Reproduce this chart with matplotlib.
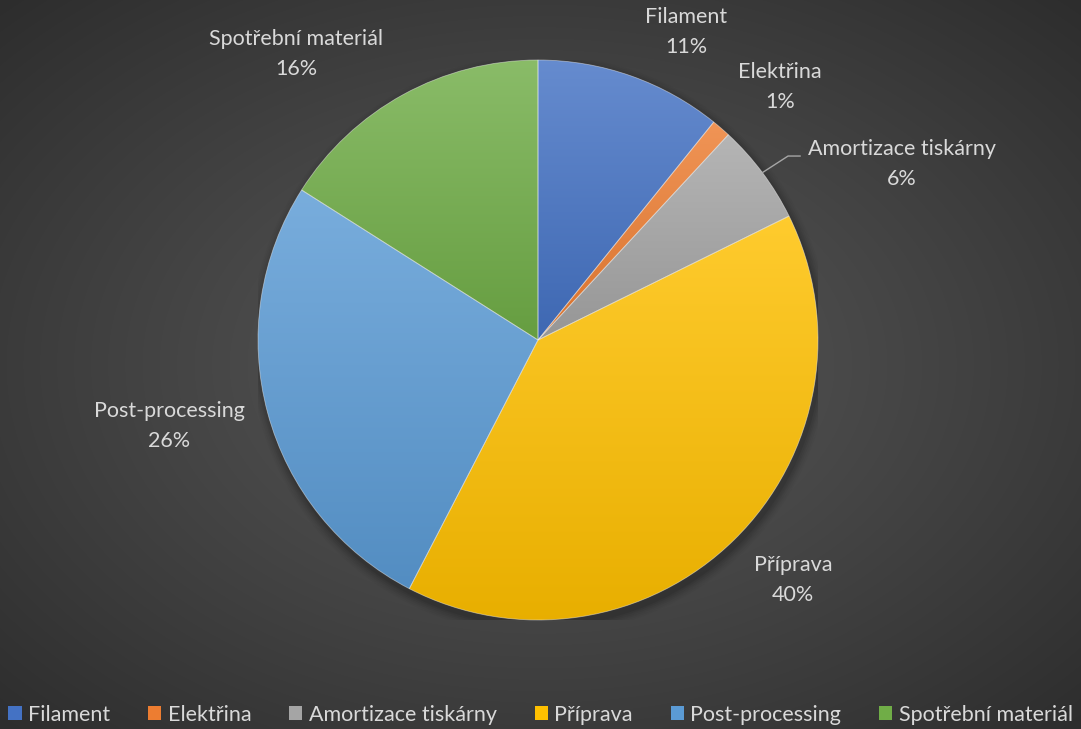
import numpy as np
import matplotlib
matplotlib.use("Agg")
import matplotlib.pyplot as plt
from matplotlib.patches import Patch, Circle
from matplotlib.colors import to_rgb

plt.rcParams['font.family'] = ['Lato', 'DejaVu Sans']

# ---- data ----
categories = ["Filament", "Elektřina", "Amortizace tiskárny", "Příprava",
              "Post-processing", "Spotřební materiál"]
values = [10.8, 1.1, 5.8, 39.9, 26.4, 16.0]
colors = ["#4472C4", "#ED7D31", "#A5A5A5", "#FFC000", "#5B9BD5", "#70AD47"]
# label anchor positions (data units, pie radius = 1)
label_pos = [(0.529, 1.10), (0.864, 0.904), (1.30, 0.629), (0.911, -0.857),
             (-1.318, -0.307), (-0.864, 1.021)]

W, H = 1081, 729
fig = plt.figure(figsize=(W / 100, H / 100), dpi=100)

# ---- background radial gradient ----
bg = fig.add_axes([0, 0, 1, 1])
yy, xx = np.mgrid[0:H, 0:W]
cx, cy = W / 2, H / 2
d = np.sqrt(((xx - cx) / (W / 2)) ** 2 + ((yy - cy) / (H / 2)) ** 2) / np.sqrt(2)
c0, c1 = 0x58 / 255, 0x2d / 255
g = c0 + (c1 - c0) * np.clip(d, 0, 1) ** 1.1
bg.imshow(np.dstack([g, g, g]), extent=[0, 1, 0, 1], aspect='auto', zorder=0)
bg.set_xlim(0, 1); bg.set_ylim(0, 1)
bg.axis('off')

# ---- pie axes ----
R = 280
pcx, pcy = 538, 340
ax = fig.add_axes([(pcx - R) / W, (H - pcy - R) / H, 2 * R / W, 2 * R / H])
ax.axis('off')

# shadow
for k, a in enumerate(np.linspace(0.06, 0.02, 6)):
    ax.add_patch(Circle((0.008, -0.018), 1.0 + 0.006 * (k + 1), color='black',
                        alpha=a, lw=0, zorder=0))

wedges, _ = ax.pie(values, colors=colors, startangle=90, counterclock=False,
                   radius=1.0, center=(0, 0),
                   wedgeprops=dict(edgecolor=(1, 1, 1, 0.45), linewidth=0.6))

for w, col in zip(wedges, colors):
    ext = w.get_path().get_extents()
    base = np.array(to_rgb(col))
    top = base + (1 - base) * 0.18
    bot = base * 0.91
    t = np.linspace(0, 1, 256)[:, None]
    grad = top[None, :] * (1 - t) + bot[None, :] * t
    img = np.repeat(grad[:, None, :], 2, axis=1)
    im = ax.imshow(img, extent=[ext.x0, ext.x1, ext.y0, ext.y1],
                   origin='upper', aspect='auto', zorder=1, interpolation='bilinear')
    im.set_clip_path(w)
    w.set_facecolor('none')
    w.set_zorder(2)

ax.set_xlim(-1, 1)
ax.set_ylim(-1, 1)
ax.set_aspect('auto')

txt_col = '#d9d9d9'
FS = 15.5
total = sum(values)
for cat, v, (lx, ly) in zip(categories, values, label_pos):
    ax.text(lx, ly, f"{cat}\n{round(100 * v / total):.0f}%", ha='center', va='center',
            color=txt_col, fontsize=FS, linespacing=1.62, clip_on=False, zorder=5)

# leader line for Amortizace tiskárny
cum = np.cumsum([0] + values)
mid = (cum[2] + cum[3]) / 2 / total * 2 * np.pi
ex, ey = np.sin(mid), np.cos(mid)
ax.plot([ex, 0.893, 0.936], [ey, 0.657, 0.657], color='#a6a6a6', lw=1.0,
        clip_on=False, zorder=4)

# ---- legend ----
handles = [Patch(facecolor=c, edgecolor='none') for c in colors]
leg = fig.legend(handles, categories, loc='center', bbox_to_anchor=(0.5, 14 / H),
                 ncol=6, frameon=False, fontsize=FS, labelcolor=txt_col,
                 handlelength=0.62, handleheight=0.62, handletextpad=0.3,
                 columnspacing=1.75, borderaxespad=0)

fig.savefig("out.png", dpi=100)
